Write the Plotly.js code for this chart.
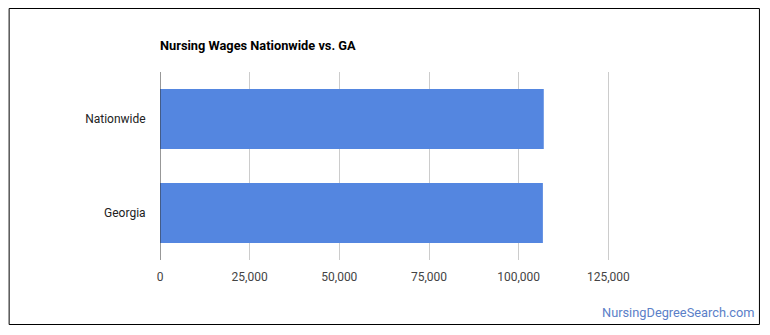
<!DOCTYPE html>
<html>
<head>
<meta charset="utf-8">
<script src="https://cdn.plot.ly/plotly-3.0.1.min.js"></script>
<style>
html,body{margin:0;padding:0;background:#fff;}
#chart{width:770px;height:335px;}
</style>
</head>
<body>
<div id="chart"></div>
<script>
var categories = ["Nationwide", "Georgia"];
var wages = [107000, 106750];
var tickValues = [0, 25000, 50000, 75000, 100000, 125000];
var tickLabels = ["0", "25,000", "50,000", "75,000", "100,000", "125,000"];
var chartTitle = "Nursing Wages Nationwide vs. GA";
var sourceText = "NursingDegreeSearch.com";

var W = 770, H = 335;
var mL = 159.5, mR = 72, mT = 72, mB = 75;
var pw = W - mL - mR, ph = H - mT - mB;
function px(x){ return (x - mL) / pw; }
function py(y){ return 1 - (y - mT) / ph; }

var trace = {
  type: "bar",
  orientation: "h",
  y: categories,
  x: wages,
  marker: {color: "#5486e0"},
  hoverinfo: "x+y"
};

var layout = {
  width: W, height: H,
  margin: {l: mL, r: mR, t: mT, b: mB, pad: 0},
  paper_bgcolor: "#ffffff",
  plot_bgcolor: "#ffffff",
  showlegend: false,
  bargap: 0.36,
  font: {family: "Roboto, Arial, sans-serif", size: 12, color: "#444"},
  xaxis: {
    range: [0, 150000],
    tickvals: tickValues,
    ticktext: tickLabels,
    showgrid: true,
    gridcolor: "#cccccc",
    gridwidth: 1,
    zeroline: false,
    showline: false,
    ticks: "outside",
    ticklen: 6,
    tickcolor: "rgba(0,0,0,0)",
    tickfont: {size: 12, color: "#444"},
    fixedrange: true
  },
  yaxis: {
    autorange: "reversed",
    showgrid: false,
    zeroline: false,
    showline: false,
    ticks: "outside",
    ticklen: 11,
    tickcolor: "rgba(0,0,0,0)",
    tickfont: {size: 12, color: "#222"},
    fixedrange: true
  },
  shapes: [
    {type: "line", xref: "x", yref: "paper", x0: 0, x1: 0, y0: 0, y1: 1,
     line: {color: "#333333", width: 1}},
    {type: "rect", xref: "paper", yref: "paper",
     x0: px(8.5), x1: px(759.5), y0: py(8.5), y1: py(324.5),
     line: {color: "#000000", width: 1}, fillcolor: "rgba(0,0,0,0)", layer: "above"}
  ],
  annotations: [
    {text: "<b>" + chartTitle + "</b>", xref: "paper", yref: "paper",
     x: px(157), y: py(45), xanchor: "left", yanchor: "middle", showarrow: false,
     font: {size: 12.8, color: "#000", family: "Roboto, Arial, sans-serif"}},
    {text: sourceText, xref: "paper", yref: "paper",
     x: px(757.5), y: py(312), xanchor: "right", yanchor: "middle", showarrow: false,
     font: {size: 12.8, color: "#5b80c8", family: "Roboto, Arial, sans-serif"}}
  ]
};

Plotly.newPlot("chart", [trace], layout, {displayModeBar: false, staticPlot: false});
</script>
</body>
</html>
